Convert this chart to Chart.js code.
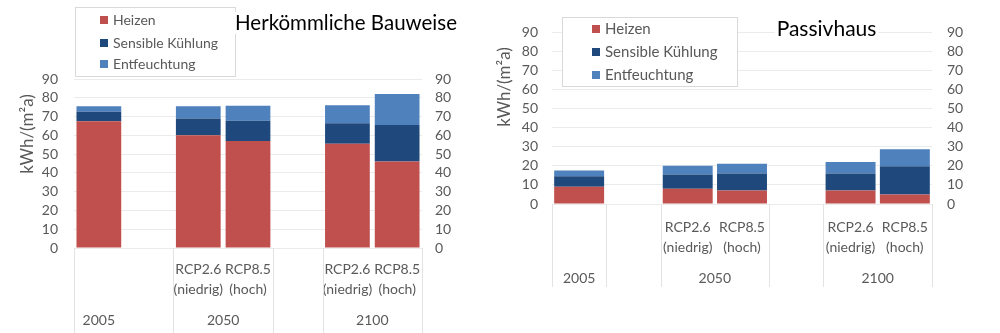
<!DOCTYPE html>
<html><head><meta charset="utf-8">
<script src="https://cdn.jsdelivr.net/npm/chart.js@4"></script>
<style>
html,body{margin:0;padding:0;background:#fff;width:1000px;height:333px;overflow:hidden}
#c1{position:absolute;left:0;top:0}
#c2{position:absolute;left:490px;top:0}
</style></head><body>
<canvas id="c1" width="490" height="333"></canvas>
<canvas id="c2" width="510" height="333"></canvas>
<script>
// ---- data ----
const seriesNames = ['Heizen', 'Sensible Kühlung', 'Entfeuchtung'];
const categories = ['2005', '', '2050 RCP2.6', '2050 RCP8.5', '', '2100 RCP2.6', '2100 RCP8.5'];
const scenarioLabels = [[''], [''], ['RCP2.6', '(niedrig)'], ['RCP8.5', '(hoch)'], [''], ['RCP2.6', '(niedrig)'], ['RCP8.5', '(hoch)']];
const yearLabels = ['2005', '2050', '2100'];
const yearMembers = [[0], [2, 3], [5, 6]];
const yMin = 0, yMax = 90, yStep = 10;
const yAxisTitle = 'kWh/(m²a)';
const titleConventional = 'Herkömmliche Bauweise';
const titlePassive = 'Passivhaus';

const convHeizen        = [67.5, null, 60,  57,   null, 55.5, 46];
const convKuehlung      = [5,    null, 9,   10.7, null, 11,   19.5];
const convEntfeuchtung  = [3,    null, 6.5, 8,    null, 9.5,  16.5];

const passivHeizen       = [9,   null, 8,   7, null, 7, 5];
const passivKuehlung     = [5.5, null, 7.5, 9, null, 9, 14.7];
const passivEntfeuchtung = [3,   null, 4.5, 5, null, 6, 9];

const colors = ['#C0504D', '#1F497D', '#4F81BD'];
const FONT = 'Lato, "Open Sans", sans-serif';
const TXT = '#595959';

function makeChart(canvasId, values, L) {
  const decor = {
    id: 'decor_' + canvasId,
    afterDraw(chart) {
      const ctx = chart.ctx, ca = chart.chartArea, x = chart.scales.x;
      const n = categories.length;
      ctx.save();
      // category separators
      ctx.strokeStyle = '#E3E3E3';
      ctx.lineWidth = 1;
      L.separators.forEach(i => {
        let px;
        if (i === 0) px = ca.left;
        else if (i === n) px = ca.right;
        else px = (x.getPixelForValue(i - 1) + x.getPixelForValue(i)) / 2;
        px = Math.round(px) + 0.5;
        ctx.beginPath(); ctx.moveTo(px, ca.bottom); ctx.lineTo(px, L.sepBottom); ctx.stroke();
      });
      // year labels
      ctx.fillStyle = TXT;
      ctx.font = '14px ' + FONT;
      ctx.textAlign = 'center'; ctx.textBaseline = 'middle';
      yearLabels.forEach((lab, k) => {
        const m = yearMembers[k];
        const px = m.reduce((s, i) => s + x.getPixelForValue(i), 0) / m.length;
        ctx.fillText(lab, px, L.yearY);
      });
      // y axis title
      ctx.save();
      ctx.translate(L.yTitleX, L.yTitleY);
      ctx.rotate(-Math.PI / 2);
      ctx.font = '17px ' + FONT;
      ctx.fillStyle = TXT;
      ctx.textAlign = 'center'; ctx.textBaseline = 'middle';
      ctx.fillText(yAxisTitle, 0, 0);
      ctx.restore();
      // legend box
      const b = L.legend;
      ctx.fillStyle = '#fff';
      ctx.fillRect(b.x0, b.y0, b.x1 - b.x0, b.y1 - b.y0);
      ctx.strokeStyle = '#D9D9D9';
      ctx.strokeRect(b.x0 + 0.5, b.y0 + 0.5, b.x1 - b.x0, b.y1 - b.y0);
      ctx.font = b.font + 'px ' + FONT;
      ctx.textAlign = 'left'; ctx.textBaseline = 'middle';
      chart.data.datasets.forEach((ds, k) => {
        const yy = b.itemY[k];
        ctx.fillStyle = ds.backgroundColor;
        ctx.fillRect(b.sqX, yy - 4, 8, 8);
        ctx.fillStyle = TXT;
        ctx.fillText(ds.label, b.textX, yy);
      });
      // chart title
      ctx.font = L.titleFont + 'px ' + FONT;
      ctx.textAlign = 'center'; ctx.textBaseline = 'middle';
      const tw = ctx.measureText(L.title).width;
      ctx.fillStyle = '#fff';
      ctx.fillRect(L.titleX - tw / 2 - 2, L.titleY - 11, tw + 4, 22);
      ctx.fillStyle = '#000';
      ctx.fillText(L.title, L.titleX, L.titleY);
      ctx.restore();
    }
  };

  const tickFont = { family: FONT, size: 14 };
  return new Chart(document.getElementById(canvasId), {
    type: 'bar',
    data: {
      labels: scenarioLabels,
      datasets: seriesNames.map((name, k) => ({
        label: name,
        data: values[k],
        backgroundColor: colors[k],
        borderWidth: 0,
        barPercentage: L.barPct,
        categoryPercentage: 1
      }))
    },
    options: {
      responsive: false,
      animation: false,
      layout: { padding: { top: L.padTop, bottom: L.padBottom, left: 0, right: 0 } },
      plugins: { legend: { display: false }, tooltip: { enabled: false }, title: { display: false } },
      scales: {
        x: {
          stacked: true,
          grid: { display: false },
          border: { display: false },
          ticks: { color: TXT, font: { family: FONT, size: 14, lineHeight: 1.4 }, padding: L.xPad, autoSkip: false, maxRotation: 0 },
          afterFit: s => { s.height = L.xHeight; }
        },
        y: {
          stacked: true, position: 'left', min: yMin, max: yMax,
          grid: { color: '#EBEBEB', drawTicks: false },
          border: { display: false },
          ticks: { stepSize: yStep, autoSkip: false, color: TXT, font: tickFont, padding: L.yPadL },
          afterFit: s => { s.width = L.yWidthL; }
        },
        y2: {
          position: 'right', min: yMin, max: yMax,
          grid: { display: false, drawTicks: false },
          border: { display: false },
          ticks: { stepSize: yStep, autoSkip: false, color: TXT, font: tickFont, padding: L.yPadR },
          afterFit: s => { s.width = L.yWidthR; }
        }
      }
    },
    plugins: [decor]
  });
}

makeChart('c1', [convHeizen, convKuehlung, convEntfeuchtung], {
  barPct: 0.9, padTop: 79, padBottom: 0, xHeight: 85, xPad: 4,
  yWidthL: 74, yWidthR: 68, yPadL: 16, yPadR: 13,
  separators: [0, 2, 4, 5, 7], sepBottom: 333, yearY: 320,
  yTitleX: 28, yTitleY: 134,
  legend: { x0: 75, y0: 7, x1: 235, y1: 76, sqX: 100, textX: 113, itemY: [20, 43, 64], font: 14 },
  title: titleConventional, titleX: 346, titleY: 23, titleFont: 20.5
});

makeChart('c2', [passivHeizen, passivKuehlung, passivEntfeuchtung], {
  barPct: 0.92, padTop: 32, padBottom: 46, xHeight: 83, xPad: 6,
  yWidthL: 62, yWidthR: 68, yPadL: 14, yPadR: 15,
  separators: [0, 1, 2, 4, 5, 7], sepBottom: 287, yearY: 278,
  yTitleX: 14.5, yTitleY: 87,
  legend: { x0: 72, y0: 17, x1: 247, y1: 86, sqX: 102, textX: 115, itemY: [29, 52, 75], font: 15 },
  title: titlePassive, titleX: 336.5, titleY: 29, titleFont: 21
});
</script>
</body></html>
